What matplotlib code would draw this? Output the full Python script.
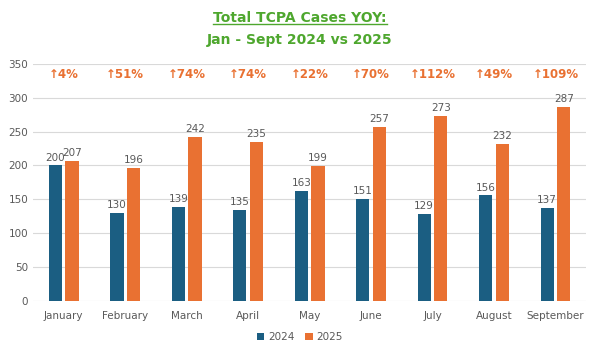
import matplotlib
matplotlib.use("Agg")
import matplotlib.pyplot as plt
import numpy as np
from matplotlib.lines import Line2D

months = ["January", "February", "March", "April", "May", "June", "July", "August", "September"]
cases_2024 = [200, 130, 139, 135, 163, 151, 129, 156, 137]
cases_2025 = [207, 196, 242, 235, 199, 257, 273, 232, 287]
pct_change = ["4%", "51%", "74%", "74%", "22%", "70%", "112%", "49%", "109%"]

c24 = "#1B5E82"
c25 = "#E97132"
green = "#4EA72E"
gray = "#595959"

fig = plt.figure(figsize=(6, 3.57), dpi=100)
ax = fig.add_axes([0.055, 0.157, 0.922, 0.664])

x = np.arange(len(months))
w = 0.215
off = 0.135
b1 = ax.bar(x - off, cases_2024, w, color=c24, label="2024", zorder=3)
b2 = ax.bar(x + off, cases_2025, w, color=c25, label="2025", zorder=3)
for xi, v in zip(x - off, cases_2024):
    ax.text(xi, v + 4, str(v), ha="center", va="bottom", fontsize=7.5, color=gray)
for xi, v in zip(x + off, cases_2025):
    ax.text(xi, v + 4, str(v), ha="center", va="bottom", fontsize=7.5, color=gray)
for xi, p in zip(x, pct_change):
    ax.text(xi, 334, "↑" + p, ha="center", va="center", fontsize=8.5, color=c25, fontweight="bold")

ax.set_xlim(-0.5, len(months) - 0.5)
ax.set_ylim(0, 350)
ax.set_yticks(range(0, 351, 50))
ax.set_xticks(x)
ax.set_xticklabels(months)
ax.tick_params(axis="both", length=0, labelsize=7.5, labelcolor=gray)
ax.tick_params(axis="x", pad=7)
ax.grid(axis="y", color="#D9D9D9", linewidth=0.8, zorder=0)
for s in ax.spines.values():
    s.set_visible(False)

leg = fig.legend(handles=[b1, b2], labels=["2024", "2025"], loc="center", bbox_to_anchor=(0.5, 0.056),
                 ncol=2, frameon=False, fontsize=7.5, handlelength=0.7, handleheight=0.7,
                 handletextpad=0.4, columnspacing=1.0)
for t in leg.get_texts():
    t.set_color(gray)

t1 = fig.text(0.5, 0.95, "Total TCPA Cases YOY:", ha="center", va="center", fontsize=10,
              fontweight="bold", color=green)
fig.text(0.5, 0.888, "Jan - Sept 2024 vs 2025", ha="center", va="center", fontsize=10,
         fontweight="bold", color=green)
fig.canvas.draw()
bb = t1.get_window_extent().transformed(fig.transFigure.inverted())
fig.add_artist(Line2D([bb.x0, bb.x1], [bb.y0 + 0.003, bb.y0 + 0.003], color=green, linewidth=1,
                      transform=fig.transFigure))

fig.savefig("out.png", dpi=100)
